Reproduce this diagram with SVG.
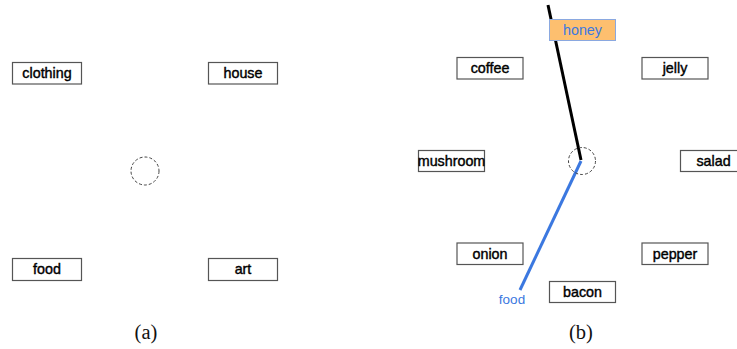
<svg xmlns="http://www.w3.org/2000/svg" width="737" height="349" viewBox="0 0 737 349">
<style>
.box{fill:#fff;stroke:#555;stroke-width:1.2}
.lbl{font-family:"Liberation Sans",Arial,sans-serif;font-size:14.3px;fill:#000;text-anchor:middle}
.dk{stroke:#000;stroke-width:0.4}
.ring{fill:none;stroke:#444;stroke-width:1;stroke-dasharray:3,2}
.cap{font-family:"Liberation Serif","Times New Roman",serif;font-size:20.5px;fill:#111;text-anchor:middle}
</style>
<rect width="737" height="349" fill="#fff"/>
<g id="a-clothing"><rect class="box" x="12.5" y="62.5" width="69" height="21.5"/><text class="lbl dk" x="47" y="78">clothing</text></g>
<g id="a-house"><rect class="box" x="208.5" y="62.5" width="69" height="21.5"/><text class="lbl dk" x="243" y="78">house</text></g>
<g id="a-food"><rect class="box" x="12.5" y="258.5" width="69" height="22"/><text class="lbl dk" x="47" y="274">food</text></g>
<g id="a-art"><rect class="box" x="208.5" y="258.5" width="69" height="22"/><text class="lbl dk" x="243" y="274">art</text></g>
<g id="a-center"><circle class="ring" cx="145" cy="171" r="14"/></g>
<text class="cap" x="146" y="339">(a)</text>

<g id="connectors">
<line x1="548" y1="5" x2="581" y2="160" stroke="#000" stroke-width="3"/>
<line x1="581" y1="161" x2="520" y2="290" stroke="#3b78e0" stroke-width="3"/>
</g>
<g id="b-honey"><rect x="549.5" y="19.5" width="66" height="21" fill="#fdbf6f" stroke="#8aa8e0" stroke-width="1"/><text class="lbl" x="582.5" y="35" style="fill:#3b78e0">honey</text></g>
<g id="b-coffee"><rect class="box" x="457" y="57.5" width="66" height="21.5"/><text class="lbl dk" x="490" y="73">coffee</text></g>
<g id="b-jelly"><rect class="box" x="642" y="57.5" width="66" height="21.5"/><text class="lbl dk" x="675" y="73">jelly</text></g>
<g id="b-mushroom"><rect class="box" x="418.5" y="150.5" width="66" height="21"/><text class="lbl dk" x="451.5" y="166">mushroom</text></g>
<g id="b-salad"><rect class="box" x="680.5" y="150.5" width="66" height="21"/><text class="lbl dk" x="713.5" y="166">salad</text></g>
<g id="b-onion"><rect class="box" x="457" y="243" width="66" height="21.5"/><text class="lbl dk" x="490" y="258.5">onion</text></g>
<g id="b-pepper"><rect class="box" x="642" y="243" width="66" height="21.5"/><text class="lbl dk" x="675" y="258.5">pepper</text></g>
<g id="b-bacon"><rect class="box" x="549.5" y="281.5" width="66" height="21"/><text class="lbl dk" x="582.5" y="297">bacon</text></g>
<g id="b-center"><circle class="ring" cx="582" cy="161" r="13.5"/></g>
<text class="lbl" x="512" y="304" style="fill:#3b78e0;font-size:13.5px">food</text>
<text class="cap" x="581" y="339">(b)</text>
</svg>
